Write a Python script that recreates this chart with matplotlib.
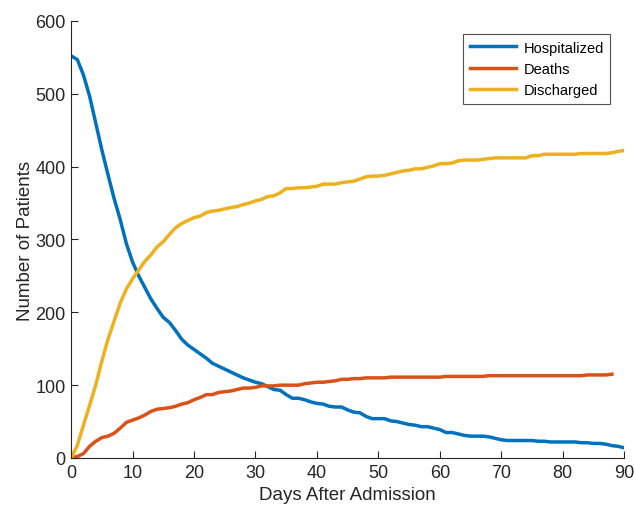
import matplotlib.pyplot as plt
import numpy as np

plt.rcParams['font.family'] = ['Liberation Sans', 'DejaVu Sans']

# 每天的数据
hosp_days = list(range(0, 91))
hospitalized = [552, 547, 526, 497, 460, 423, 389, 356, 327, 294,
                269, 250, 234, 218, 205, 193, 186, 175, 163, 155,
                149, 143, 137, 130, 126, 122, 118, 114, 110, 107,
                104, 102, 98, 94, 93, 87, 82, 82, 80, 77,
                75, 74, 71, 70, 70, 66, 63, 62, 57, 54,
                54, 54, 51, 50, 48, 46, 45, 43, 43, 41,
                39, 35, 35, 33, 31, 30, 30, 30, 29, 27,
                25, 24, 24, 24, 24, 24, 23, 23, 22, 22,
                22, 22, 22, 21, 21, 20, 20, 19, 17, 16, 14]

death_days = list(range(0, 89))
deaths = [0, 2, 6, 16, 23, 28, 30, 34, 41, 49,
          52, 55, 59, 64, 67, 68, 69, 71, 74, 76,
          80, 83, 87, 87, 90, 91, 92, 94, 96, 96,
          97, 99, 99, 99, 100, 100, 100, 100, 102, 103,
          104, 104, 105, 106, 108, 108, 109, 109, 110, 110,
          110, 110, 111, 111, 111, 111, 111, 111, 111, 111,
          111, 112, 112, 112, 112, 112, 112, 112, 113, 113,
          113, 113, 113, 113, 113, 113, 113, 113, 113, 113,
          113, 113, 113, 113, 114, 114, 114, 114, 115]

disc_days = list(range(0, 91))
discharged = [0, 17, 45, 72, 100, 133, 163, 188, 213, 232,
              246, 258, 270, 279, 290, 297, 307, 316, 322, 326,
              330, 332, 337, 339, 340, 342, 344, 345, 348, 350,
              353, 355, 359, 360, 364, 370, 370, 371, 371, 372,
              373, 376, 376, 376, 378, 379, 380, 383, 386, 387,
              387, 388, 390, 392, 394, 395, 397, 397, 399, 401,
              404, 404, 405, 408, 409, 409, 409, 410, 411, 412,
              412, 412, 412, 412, 412, 415, 415, 417, 417, 417,
              417, 417, 417, 418, 418, 418, 418, 418, 419, 421, 422]

axis_color = '#262626'

fig = plt.figure(figsize=(6.35, 5.1), dpi=100)
ax = fig.add_axes([0.112, 0.1, 0.871, 0.857])

ax.plot(hosp_days, hospitalized, color='#0072BD', lw=2.5, label='Hospitalized')
ax.plot(death_days, deaths, color='#D95319', lw=2.5, label='Deaths')
ax.plot(disc_days, discharged, color='#EDB120', lw=2.5, label='Discharged')

ax.set_xlim(0, 90)
ax.set_ylim(0, 600)
ax.set_xticks(np.arange(0, 91, 10))
ax.set_yticks(np.arange(0, 601, 100))

# MATLAB风格：无上右边框，刻度朝内
for s in ['top', 'right']:
    ax.spines[s].set_visible(False)
for s in ['left', 'bottom']:
    ax.spines[s].set_color(axis_color)
    ax.spines[s].set_linewidth(0.8)
ax.tick_params(direction='in', length=5, width=0.8, colors=axis_color,
               labelsize=13, pad=4)

ax.set_xlabel('Days After Admission', fontsize=13.5, color=axis_color, labelpad=4)
ax.set_ylabel('Number of Patients', fontsize=13.5, color=axis_color, labelpad=1)

leg = ax.legend(loc='upper left', bbox_to_anchor=(463 / 635, 1 - 35 / 510),
                bbox_transform=fig.transFigure, fontsize=10.5, frameon=True,
                fancybox=False, handlelength=3.2, handletextpad=0.5,
                borderpad=0.45, labelspacing=0.5, borderaxespad=0)
leg.get_frame().set_edgecolor(axis_color)
leg.get_frame().set_linewidth(0.8)

plt.savefig('out.png', dpi=100)
